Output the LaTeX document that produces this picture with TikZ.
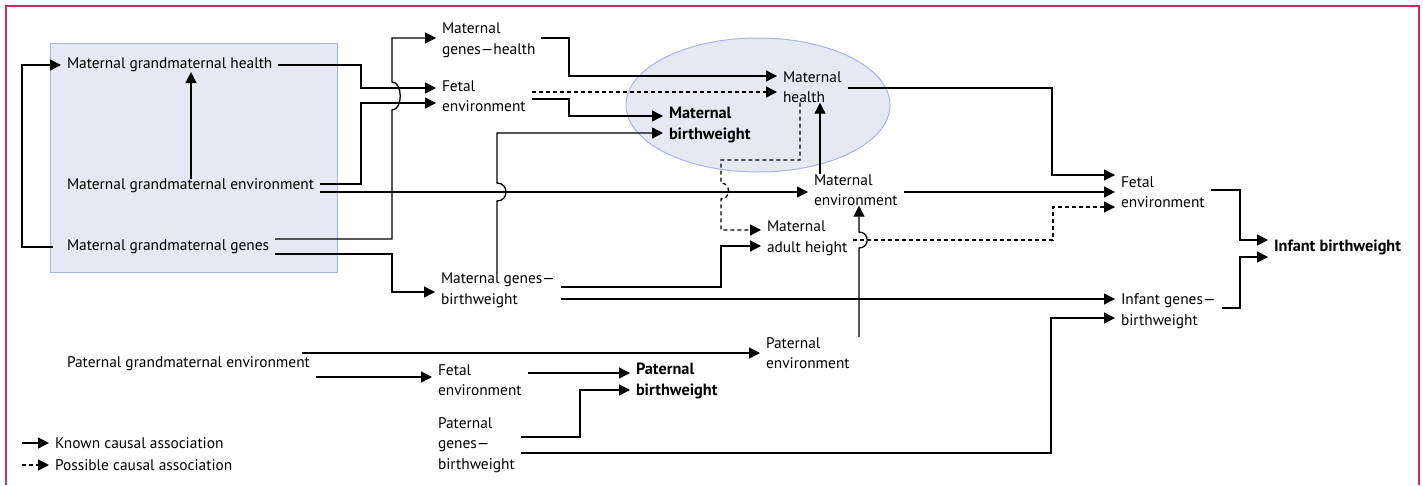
\documentclass[tikz,border=0pt]{standalone}
\usepackage{fontspec}
\setmainfont{PT Sans}
\usetikzlibrary{arrows.meta,calc}
\definecolor{framec}{RGB}{210,45,90}
\definecolor{shade}{RGB}{230,232,244}
\definecolor{shadeline}{RGB}{170,180,225}
\begin{document}
\begin{tikzpicture}[x=1pt,y=-1pt,
  lbl/.style={anchor=west,inner sep=0pt,outer xsep=6pt,outer ysep=0pt,align=left,font=\fontsize{15.4}{20.5}\selectfont},
  blbl/.style={lbl,font=\fontsize{16.3}{20.5}\selectfont\bfseries},
  arr/.style={line width=1.3pt,-{Triangle[length=11pt,width=11pt]}},
  darr/.style={arr,dash pattern=on 4pt off 3pt},
  ln/.style={line width=1.3pt}]
\useasboundingbox (0,0) rectangle (1423,485);
\draw[framec,line width=1.2pt] (6,485) -- (6,6) -- (1419,6) -- (1419,485);
% background shapes
\draw[fill=shade,draw=shadeline,line width=1pt] (50,43) rectangle (337,272);
\draw[fill=shade,draw=shadeline,line width=1pt] (758,105) ellipse [x radius=132pt,y radius=67pt];
% nodes
\node[lbl] (mgh) at (61,65) {Maternal grandmaternal health};
\node[lbl] (mge) at (61,186) {Maternal grandmaternal environment};
\node[lbl] (mgg) at (61,247) {Maternal grandmaternal genes};
\node[lbl] (mgh2) at (436,40) {Maternal\\genes—health};
\node[lbl] (fe1) at (436,96) {Fetal\\environment};
\node[blbl] (mbw) at (663,125) {Maternal\\birthweight};
\node[lbl] (mh) at (777,87) {Maternal\\health};
\node[lbl] (menv) at (808,190) {Maternal\\environment};
\node[lbl] (mah) at (761,238) {Maternal\\adult height};
\node[lbl] (mgbw) at (435,290) {Maternal genes—\\birthweight};
\node[lbl] (fe2) at (1115,192) {Fetal\\environment};
\node[blbl] (ibw) at (1268,247) {Infant birthweight};
\node[lbl] (igbw) at (1115,311) {Infant genes—\\birthweight};
\node[lbl] (pge) at (61,364) {Paternal grandmaternal environment};
\node[lbl] (penv) at (760,353) {Paternal\\environment};
\node[lbl] (fe3) at (432,380) {Fetal\\environment};
\node[blbl] (pbw) at (630,381) {Paternal\\birthweight};
\node[lbl] (pgbw) at (432,445) {Paternal\\genes—\\birthweight};
\node[lbl] (lk) at (49,443) {Known causal association};
\node[lbl] (lp) at (49,465) {Possible causal association};
\coordinate (lka) at (22,443);
\coordinate (lpa) at (22,465);
% legend
\draw[arr] (lka) -- (lk.west);
\draw[darr] (lpa) -- (lp.west);
% connectors
\draw[arr] ($(mgg.west)+(-8,0)$) -- (22,247) -- (22,65) -- (mgh.west);
\draw[arr] (mge.north -| 191,0) -- (mgh.south -| 191,0);
\draw[arr] (mgh.east) -- (361,65) -- (361,88) -- (fe1.west |- 0,88);
\draw[arr] (mge.east |- 0,184) -- (361,184) -- (361,103) -- (fe1.west |- 0,103);
\draw[arr] (mge.east |- 0,192) -- (menv.west |- 0,192);
\draw[arr] (mgg.east |- 0,239) -- (392,239) -- (392,110) .. controls (403,110) and (403,82) .. (392,82) -- (392,38) -- (mgh2.west |- 0,38);
\draw[arr] (mgg.east |- 0,254) -- (392,254) -- (392,292) -- (mgbw.west |- 0,292);
\draw[arr] (mgh2.east |- 0,38) -- (569,38) -- (569,76) -- (mh.west |- 0,76);
\draw[darr] (fe1.east |- 0,92) -- (mh.west |- 0,92);
\draw[arr] (fe1.east |- 0,99) -- (569,99) -- (569,116) -- (mbw.west |- 0,116);
\draw[arr] (mgbw.north -| 497,0) -- (497,201) .. controls (509,201) and (509,183) .. (497,183) -- (497,133) -- (mbw.west |- 0,133);
\draw[arr] (mh.east |- 0,88) -- (1052,88) -- (1052,175) -- (fe2.west |- 0,175);
\draw[darr] (mh.south -| 800,0) -- (800,160) -- (721,160) -- (721,183) .. controls (731,183) and (731,199) .. (721,199) -- (721,230) -- (mah.west |- 0,230);
\draw[arr] (menv.north -| 820,0) -- (mh.south -| 820,0);
\draw[arr] (menv.east |- 0,192) -- (fe2.west |- 0,192);
\draw[darr] (mah.east |- 0,240) -- (1053,240) -- (1053,207) -- (fe2.west |- 0,207);
\draw[arr] (mgbw.east |- 0,287) -- (721,287) -- (721,246) -- (mah.west |- 0,246);
\draw[arr] (mgbw.east |- 0,299) -- (igbw.west |- 0,299);
\draw[arr] (fe2.east |- 0,190) -- (1240,190) -- (1240,240) -- (ibw.west |- 0,240);
\draw[arr] (igbw.east |- 0,308) -- (1240,308) -- (1240,257) -- (ibw.west |- 0,257);
\draw[arr] ($(pge.east |- 0,353)+(-14,0)$) -- (penv.west |- 0,353);
\draw[arr] (pge.east |- 0,377) -- (fe3.west |- 0,377);
\draw[arr] (fe3.east |- 0,373) -- (pbw.west |- 0,373);
\draw[arr] (pgbw.east |- 0,437) -- (580,437) -- (580,390) -- (pbw.west |- 0,390);
\draw[arr] (pgbw.east |- 0,453) -- (1051,453) -- (1051,318) -- (igbw.west |- 0,318);
\draw[arr] (penv.north -| 859,0) -- (859,248) .. controls (870,248) and (870,232) .. (859,232) -- (menv.south -| 859,0);
\end{tikzpicture}
\end{document}
